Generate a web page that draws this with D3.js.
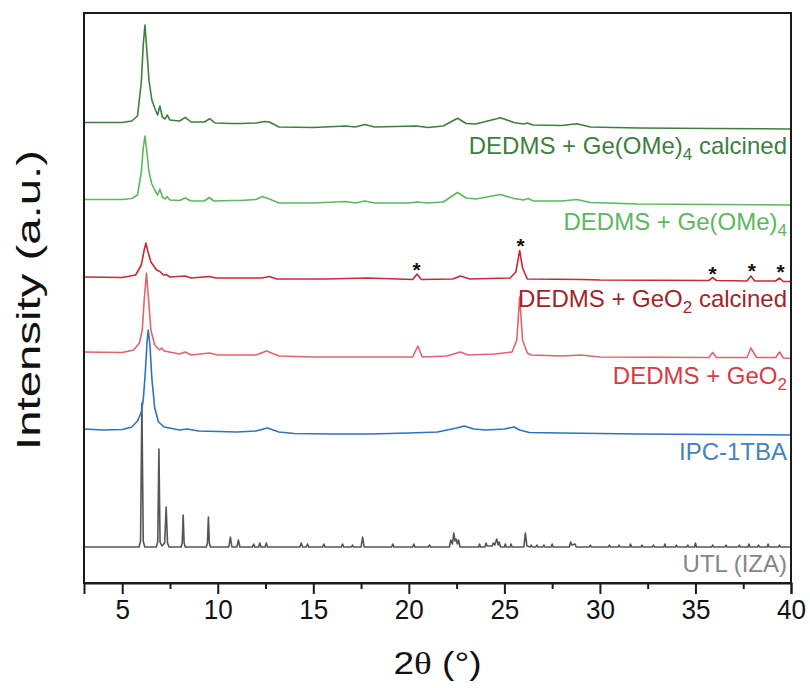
<!DOCTYPE html>
<html>
<head>
<meta charset="utf-8">
<script src="https://cdn.jsdelivr.net/npm/d3@7"></script>
<style>
  html, body { margin: 0; padding: 0; background: #fff; }
  svg { display: block; }
  text { font-family: "Liberation Sans", Arial, sans-serif; }
</style>
</head>
<body>
<svg id="chart" width="810" height="688"></svg>
<script>
// ---------------- DATA ----------------
const xTicks = [5, 10, 15, 20, 25, 30, 35, 40];
const xMinorTicks = [7.5, 12.5, 17.5, 22.5, 27.5, 32.5, 37.5];
const xDomain = [3, 40];
const yDomain = [0, 57];

const seriesNames = [
  "UTL (IZA)",
  "IPC-1TBA",
  "DEDMS + GeO2",
  "DEDMS + GeO2 calcined",
  "DEDMS + Ge(OMe)4",
  "DEDMS + Ge(OMe)4 calcined"
];

// UTL (IZA) simulated pattern  [2theta, intensity]
const utl = [
  [3,3.6],[5.88,3.6],[5.96,4.2],[6.03,18.0],[6.10,4.2],[6.18,3.6],
  [6.78,3.6],[6.86,4.1],[6.92,13.4],[6.98,4.1],[7.08,3.7],[7.22,4.0],[7.30,7.6],[7.37,4.0],[7.45,3.6],
  [8.08,3.6],[8.14,4.0],[8.19,6.8],[8.24,4.0],[8.30,3.6],
  [9.40,3.6],[9.46,4.0],[9.51,6.6],[9.56,4.0],[9.62,3.6],
  [10.58,3.6],[10.66,4.6],[10.74,3.6],[11.0,3.6],[11.08,4.3],[11.16,3.6],
  [11.82,3.6],[11.88,3.9],[11.94,3.6],[12.14,3.6],[12.2,4.0],[12.26,3.6],[12.48,3.6],[12.54,4.0],[12.6,3.6],
  [14.3,3.6],[14.37,4.0],[14.44,3.6],[14.64,3.6],[14.70,3.9],[14.76,3.6],
  [15.49,3.6],[15.55,3.9],[15.61,3.6],
  [16.47,3.6],[16.53,3.9],[16.59,3.6],
  [17.0,3.6],[17.05,3.8],[17.1,3.6],[17.5,3.6],[17.58,4.6],[17.66,3.6],
  [19.1,3.6],[19.16,3.9],[19.22,3.6],
  [20.2,3.6],[20.26,3.9],[20.32,3.6],
  [21.02,3.6],[21.08,3.8],[21.14,3.6],
  [22.12,3.6],[22.2,4.3],[22.28,3.9],[22.35,5.0],[22.42,4.2],[22.47,4.4],[22.54,3.9],[22.6,4.3],[22.68,3.6],
  [23.65,3.6],[23.7,3.9],[23.75,3.6],[23.98,3.6],[24.04,4.0],[24.1,3.7],[24.36,3.7],[24.42,4.0],[24.5,3.8],
  [24.6,4.4],[24.68,3.8],[24.73,4.1],[24.8,3.6],
  [25.0,3.6],[25.05,3.9],[25.1,3.6],[25.3,3.6],[25.35,3.9],[25.4,3.6],
  [26.02,3.6],[26.1,5.0],[26.18,3.7],[26.35,3.6],[26.4,3.8],[26.45,3.6],[26.65,3.6],[26.7,3.8],[26.75,3.6],
  [27.02,3.6],[27.07,3.8],[27.12,3.6],[27.45,3.6],[27.5,3.9],[27.55,3.6],
  [28.4,3.6],[28.47,4.1],[28.54,3.8],[28.7,3.9],[28.76,3.6],[29.45,3.6],[29.5,3.8],[29.55,3.6],
  [30.45,3.6],[30.5,3.8],[30.55,3.6],[30.95,3.6],[31.0,3.8],[31.05,3.6],[31.55,3.6],[31.6,3.9],[31.65,3.6],
  [32.15,3.6],[32.2,3.8],[32.25,3.6],[32.75,3.6],[32.8,3.8],[32.85,3.6],[33.35,3.6],[33.4,3.9],[33.45,3.6],
  [33.95,3.6],[34.0,3.8],[34.05,3.6],[34.55,3.6],[34.6,3.8],[34.65,3.6],[34.95,3.6],[35.0,4.0],[35.05,3.6],
  [35.85,3.6],[35.9,3.8],[35.95,3.6],[36.55,3.6],[36.6,3.8],[36.65,3.6],[37.25,3.6],[37.3,3.8],[37.35,3.6],
  [37.75,3.6],[37.8,3.9],[37.85,3.6],[38.25,3.6],[38.3,3.8],[38.35,3.6],[38.75,3.6],[38.8,3.9],[38.85,3.6],
  [39.35,3.6],[39.4,3.8],[39.45,3.6],[40,3.6]
];

// IPC-1TBA
const ipc1 = [
  [3.0,15.4],[4.0,15.3],[5.0,15.35],[5.5,15.6],[5.8,16.2],[6.0,17.1],[6.1,18.3],[6.2,20.8],[6.3,24.1],
  [6.36,25.3],[6.45,23.8],[6.55,20.5],[6.7,17.5],[6.9,16.1],[7.2,15.6],[8.0,15.3],[8.4,15.4],[9.0,15.2],
  [10,15.15],[11,15.1],[12,15.2],[12.6,15.5],[13.2,15.1],[14,14.95],[16,14.9],[18,14.9],[20,15.0],
  [21.5,15.1],[22.5,15.5],[22.9,15.7],[23.4,15.4],[24,15.3],[25,15.4],[25.5,15.6],[25.8,15.3],
  [26.3,15.05],[28,15.0],[32,14.9],[36,14.85],[40,14.8]
];

// DEDMS + GeO2
const geo2 = [
  [3.0,23.1],[5.0,23.05],[5.6,23.3],[5.9,24.0],[6.05,25.3],[6.15,28.3],[6.27,31.0],[6.38,28.3],[6.5,25.3],
  [6.7,23.8],[6.95,23.3],[7.06,23.5],[7.2,23.2],[8.0,22.9],[8.3,23.1],[8.6,22.8],[9.58,23.0],[10.0,22.8],
  [12.0,22.8],[12.55,23.2],[13.2,22.7],[15,22.6],[18,22.6],[20.2,22.6],[20.47,23.7],[20.7,22.6],
  [22.0,22.7],[22.7,23.1],[23.1,22.8],[24.5,22.9],[25.4,23.1],[25.65,24.3],[25.8,28.6],[25.95,24.3],
  [26.2,23.0],[26.4,22.8],[28.0,22.7],[29.0,22.8],[30,22.6],[35.7,22.55],[35.9,23.05],[36.1,22.55],
  [37.7,22.55],[37.9,23.5],[38.2,22.55],[39.2,22.55],[39.4,23.1],[39.6,22.5],[40,22.45]
];

// DEDMS + GeO2 calcined
const geo2Calc = [
  [3.0,30.6],[5.0,30.55],[5.7,30.8],[6.0,31.8],[6.15,33.3],[6.24,34.0],[6.35,33.1],[6.5,32.1],[6.8,31.3],
  [6.97,31.15],[7.15,30.8],[7.3,30.85],[7.5,30.6],[8.3,30.7],[8.6,30.5],[9.58,30.65],[9.9,30.5],
  [12.3,30.5],[12.7,30.65],[13.1,30.4],[15.7,30.4],[17.8,30.5],[20.2,30.35],[20.43,30.9],[20.65,30.35],
  [22.3,30.4],[22.7,30.7],[23.2,30.4],[25.3,30.5],[25.6,31.1],[25.8,33.25],[25.95,31.5],[26.2,30.4],
  [29.1,30.35],[30,30.3],[35.7,30.25],[35.9,30.55],[36.1,30.25],[37.7,30.2],[37.9,30.7],[38.1,30.2],
  [39.2,30.2],[39.4,30.5],[39.6,30.15],[40,30.15]
];

// DEDMS + Ge(OMe)4
const geome = [
  [3.0,38.35],[5.0,38.35],[5.5,38.45],[5.8,38.8],[6.0,41.1],[6.1,43.5],[6.19,44.7],[6.28,43.3],[6.4,41.1],
  [6.55,39.9],[6.7,39.3],[6.85,38.8],[6.97,39.4],[7.1,38.6],[7.25,38.4],[7.35,38.63],[7.5,38.3],
  [8.0,38.25],[8.3,38.5],[8.6,38.2],[9.3,38.2],[9.55,38.55],[9.8,38.2],[10.7,38.25],[11.2,38.25],
  [12.0,38.35],[12.33,38.65],[12.7,38.4],[13.2,38.0],[15,38.0],[16.7,38.15],[17.2,38.0],[17.7,38.2],
  [18.2,38.0],[20.0,38.0],[20.4,38.1],[21.0,38.0],[21.8,38.1],[22.55,39.05],[23.0,38.5],[23.5,38.4],
  [24.8,38.85],[25.5,38.45],[26.0,38.3],[26.25,38.45],[26.5,38.2],[28.0,38.2],[28.8,38.35],[29.5,38.05],
  [32,37.9],[36,37.85],[40,37.8]
];

// DEDMS + Ge(OMe)4 calcined
const geomeCalc = [
  [3.0,46.05],[5.0,46.05],[5.5,46.2],[5.8,46.7],[6.0,50.1],[6.1,53.8],[6.19,55.8],[6.28,53.5],[6.4,50.3],
  [6.55,48.3],[6.7,47.5],[6.85,46.8],[6.97,47.7],[7.1,46.6],[7.25,46.4],[7.35,46.8],[7.5,46.3],
  [8.0,46.2],[8.3,46.57],[8.6,46.1],[9.3,46.1],[9.58,46.43],[9.85,46.0],[10.7,45.95],[11.2,45.95],
  [12.0,46.0],[12.45,46.15],[12.7,46.1],[13.2,45.6],[15,45.55],[16.7,45.7],[17.2,45.6],[17.7,45.85],
  [18.2,45.6],[20.4,45.7],[21.0,45.55],[21.8,45.7],[22.55,46.47],[23.0,45.95],[23.5,45.9],[24.8,46.53],
  [25.5,46.05],[26.0,45.9],[26.2,46.0],[26.5,45.8],[28.0,45.75],[28.8,45.93],[29.5,45.6],[32,45.5],
  [36,45.45],[40,45.4]
];

// impurity reflections marked with asterisks
const starX = [20.4, 25.85, 35.9, 37.95, 39.45];
const starI = [31.7, 34.1, 31.3, 31.6, 31.5];

// ---------------- STYLES ----------------
const lineColors  = ["#555555", "#2f72c0", "#e0646c", "#c42b35", "#5cb85c", "#3d7f3d"];
const labelColors = ["#858585", "#4682c0", "#d63b45", "#a3232b", "#5cb85c", "#3d7f3d"];
const seriesData = [utl, ipc1, geo2, geo2Calc, geome, geomeCalc];

// ---------------- CHART ----------------
const svg = d3.select("#chart");
const L = 84, R = 791, T = 13, B = 583;

const x = d3.scaleLinear().domain(xDomain).range([L, R]);
const y = d3.scaleLinear().domain(yDomain).range([B, T]);

const line = d3.line().x(d => x(d[0])).y(d => y(d[1])).curve(d3.curveLinear);

// data lines
svg.append("g").selectAll("path")
  .data(seriesData)
  .join("path")
  .attr("d", d => line(d))
  .attr("fill", "none")
  .attr("stroke", (d, i) => lineColors[i])
  .attr("stroke-width", 1.6)
  .attr("stroke-linejoin", "round");

// series labels (right aligned under each trace)
const labelG = svg.append("g");
seriesNames.forEach((name, i) => {
  const data = seriesData[i];
  const endI = data[data.length - 1][1];
  const t = labelG.append("text")
    .attr("x", R - 4)
    .attr("y", y(endI) + 25)
    .attr("text-anchor", "end")
    .attr("fill", labelColors[i])
    .style("font-size", "24px");
  const m = name.match(/^(.*?)(O2|\(OMe\)4)(.*)$/);
  if (m) {
    const base = m[2] === "O2" ? "O" : "(OMe)";
    const sub = m[2] === "O2" ? "2" : "4";
    t.append("tspan").text(m[1] + base);
    t.append("tspan").text(sub).attr("dy", 6).style("font-size", "17px");
    if (m[3]) t.append("tspan").text(m[3]).attr("dy", -6);
  } else {
    t.text(name);
  }
});

// asterisks
svg.append("g").selectAll("text")
  .data(starX)
  .join("text")
  .attr("x", d => x(d))
  .attr("y", (d, i) => y(starI[i]) + 11)
  .attr("text-anchor", "middle")
  .attr("fill", "#111")
  .style("font-size", "21px")
  .style("font-weight", "bold")
  .text("*");

// frame
svg.append("rect")
  .attr("x", L).attr("y", T)
  .attr("width", R - L).attr("height", B - T)
  .attr("fill", "none")
  .attr("stroke", "#1a1a1a")
  .attr("stroke-width", 2);

// x axis
const xAxis = d3.axisBottom(x).tickValues(xTicks).tickSize(11).tickPadding(5).tickFormat(d3.format("d"));
const gx = svg.append("g").attr("transform", `translate(0,${B})`).call(xAxis);
gx.select(".domain").attr("stroke", "#1a1a1a").attr("stroke-width", 2);
gx.selectAll(".tick line").attr("stroke", "#1a1a1a").attr("stroke-width", 2);
gx.selectAll(".tick text")
  .attr("fill", "#111")
  .style("font-size", "28px")
  .attr("textLength", d => String(d).length * 14.5)
  .attr("lengthAdjust", "spacingAndGlyphs");

const xMinor = d3.axisBottom(x).tickValues(xMinorTicks).tickSize(6).tickFormat("");
const gxm = svg.append("g").attr("transform", `translate(0,${B})`).call(xMinor);
gxm.select(".domain").remove();
gxm.selectAll(".tick line").attr("stroke", "#1a1a1a").attr("stroke-width", 2);

// axis titles
const xt = svg.append("text")
  .attr("x", (L + R) / 2)
  .attr("y", 674)
  .attr("text-anchor", "middle")
  .attr("fill", "#111")
  .attr("textLength", 88)
  .attr("lengthAdjust", "spacingAndGlyphs")
  .style("font-size", "31px");
xt.append("tspan").text("2");
xt.append("tspan").text("θ").style("font-family", "'Liberation Serif', serif");
xt.append("tspan").text(" (°)");

svg.append("text")
  .attr("transform", `translate(40,300) rotate(-90)`)
  .attr("text-anchor", "middle")
  .attr("fill", "#111")
  .attr("textLength", 300)
  .attr("lengthAdjust", "spacingAndGlyphs")
  .style("font-size", "33px")
  .text("Intensity (a.u.)");
</script>
</body>
</html>
